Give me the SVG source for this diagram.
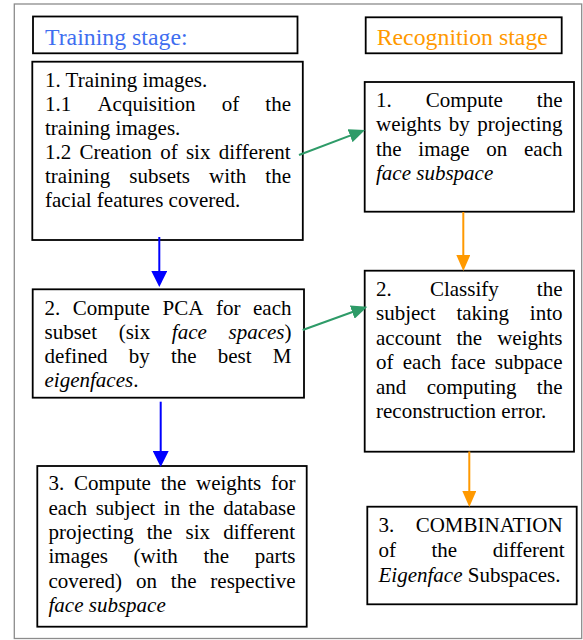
<svg xmlns="http://www.w3.org/2000/svg" width="583" height="640" viewBox="0 0 583 640">
  <style>
    .frame { fill: #ffffff; stroke: #8c8c8c; stroke-width: 1.3; }
    .box { fill: #ffffff; stroke: #000000; stroke-width: 1.8; }
    .t { font-family: "Liberation Serif", "Times New Roman", serif; font-size: 21px; fill: #000000; }
    .i { font-style: italic; }
    .head { font-family: "Liberation Serif", "Times New Roman", serif; font-size: 23.8px; }
    .blue-line { stroke: #0000ff; stroke-width: 2; fill: none; }
    .green-line { stroke: #2e9b68; stroke-width: 2; fill: none; }
    .orange-line { stroke: #ff9900; stroke-width: 2; fill: none; }
  </style>
  <defs>
    <marker id="arrow-blue" markerUnits="userSpaceOnUse" markerWidth="16" markerHeight="16" refX="12" refY="8" orient="auto">
      <path d="M0,0 L16,8 L0,16 Z" fill="#0000ff"/>
    </marker>
    <marker id="arrow-green" markerUnits="userSpaceOnUse" markerWidth="16" markerHeight="14" refX="12" refY="7" orient="auto">
      <path d="M0,0 L16,7 L0,14 Z" fill="#2e9b68"/>
    </marker>
    <marker id="arrow-orange" markerUnits="userSpaceOnUse" markerWidth="16" markerHeight="14" refX="12" refY="7" orient="auto">
      <path d="M0,0 L16,7 L0,14 Z" fill="#ff9900"/>
    </marker>
  </defs>

  <!-- outer frame -->
  <rect class="frame" x="14.3" y="4" width="567.4" height="634.5"/>

  <!-- stage headers -->
  <g id="training-header">
    <rect class="box" x="33" y="16.5" width="264.5" height="36.8"/>
    <text class="head" x="45" y="44.5" fill="#3f6ef0">Training stage:</text>
  </g>
  <g id="recognition-header">
    <rect class="box" x="365.7" y="17.3" width="196" height="36"/>
    <text class="head" x="376.7" y="44.5" fill="#ff9900">Recognition stage</text>
  </g>

  <!-- training step 1 -->
  <g id="train-1">
    <rect class="box" x="32.3" y="61.7" width="270.5" height="178.3"/>
    <text class="t" x="45" y="87">1. Training images.</text>
    <text class="t" y="111"><tspan x="45">1.1 </tspan><tspan x="97.45">Acquisition </tspan><tspan x="221.65">of </tspan><tspan x="265.34">the</tspan></text>
    <text class="t" x="45" y="135">training images.</text>
    <text class="t" y="159"><tspan x="45">1.2 </tspan><tspan x="79.53">Creation </tspan><tspan x="160.13">of </tspan><tspan x="185.9">six </tspan><tspan x="218.69">different</tspan></text>
    <text class="t" y="183"><tspan x="45">training </tspan><tspan x="129.33">subsets </tspan><tspan x="209">with </tspan><tspan x="265.34">the</tspan></text>
    <text class="t" x="45" y="207">facial features covered.</text>
  </g>

  <!-- training step 2 -->
  <g id="train-2">
    <rect class="box" x="32.7" y="289.3" width="271.3" height="108.4"/>
    <text class="t" y="314.5"><tspan x="44.5">2. </tspan><tspan x="72.86">Compute </tspan><tspan x="162.47">PCA </tspan><tspan x="215.93">for </tspan><tspan x="253.03">each</tspan></text>
    <text class="t" y="338.5"><tspan x="44.5">subset </tspan><tspan x="118.68">(six </tspan><tspan x="171.86" class="i">face </tspan><tspan x="228.52"><tspan class="i">spaces</tspan>)</tspan></text>
    <text class="t" y="362.5"><tspan x="44.5">defined </tspan><tspan x="128.69">by </tspan><tspan x="170.9">the </tspan><tspan x="217.77">best </tspan><tspan x="272.83">M</tspan></text>
    <text class="t" x="44.5" y="386.5"><tspan class="i">eigenfaces</tspan>.</text>
  </g>

  <!-- training step 3 -->
  <g id="train-3">
    <rect class="box" x="37.3" y="466" width="269.4" height="160.7"/>
    <text class="t" y="490"><tspan x="48.5">3. </tspan><tspan x="73.94">Compute </tspan><tspan x="160.63">the </tspan><tspan x="195.98">weights </tspan><tspan x="271.01">for</tspan></text>
    <text class="t" y="514.5"><tspan x="48.5">each </tspan><tspan x="95.66">subject </tspan><tspan x="163.84">in </tspan><tspan x="188.87">the </tspan><tspan x="223.2">database</tspan></text>
    <text class="t" y="538.5"><tspan x="48.5">projecting </tspan><tspan x="146.78">the </tspan><tspan x="185.56">six </tspan><tspan x="223.2">different</tspan></text>
    <text class="t" y="563"><tspan x="48.5">images </tspan><tspan x="133.56">(with </tspan><tspan x="203.46">the </tspan><tspan x="254.68">parts</tspan></text>
    <text class="t" y="587.5"><tspan x="48.5">covered) </tspan><tspan x="135.88">on </tspan><tspan x="170.8">the </tspan><tspan x="210.37">respective</tspan></text>
    <text class="t i" x="48.5" y="612">face subspace</text>
  </g>

  <!-- recognition step 1 -->
  <g id="recog-1">
    <rect class="box" x="364.7" y="82" width="209.3" height="129.7"/>
    <text class="t" y="107"><tspan x="376">1. </tspan><tspan x="425.8">Compute </tspan><tspan x="536.84">the</tspan></text>
    <text class="t" y="131"><tspan x="376">weights </tspan><tspan x="448.83">by </tspan><tspan x="477.34">projecting</tspan></text>
    <text class="t" y="155.5"><tspan x="376">the </tspan><tspan x="418.34">image </tspan><tspan x="486.34">on </tspan><tspan x="524.03">each</tspan></text>
    <text class="t i" x="376" y="180">face subspace</text>
  </g>

  <!-- recognition step 2 -->
  <g id="recog-2">
    <rect class="box" x="364.7" y="270.7" width="209.3" height="181"/>
    <text class="t" y="295.5"><tspan x="376">2. </tspan><tspan x="429.88">Classify </tspan><tspan x="536.84">the</tspan></text>
    <text class="t" y="320"><tspan x="376">subject </tspan><tspan x="456.41">taking </tspan><tspan x="529.82">into</tspan></text>
    <text class="t" y="344.5"><tspan x="376">account </tspan><tspan x="456.41">the </tspan><tspan x="497.17">weights</tspan></text>
    <text class="t" y="369"><tspan x="376">of </tspan><tspan x="402.8">each </tspan><tspan x="450.58">face </tspan><tspan x="494.86">subpace</tspan></text>
    <text class="t" y="393.5"><tspan x="376">and </tspan><tspan x="426.66">computing </tspan><tspan x="536.84">the</tspan></text>
    <text class="t" x="376" y="418">reconstruction error.</text>
  </g>

  <!-- recognition step 3 -->
  <g id="recog-3">
    <rect class="box" x="367.3" y="506.7" width="209.4" height="97.6"/>
    <text class="t" y="531.5"><tspan x="378.5">3. </tspan><tspan x="415.69">COMBINATION</tspan></text>
    <text class="t" y="556.5"><tspan x="378.5">of </tspan><tspan x="431.52">the </tspan><tspan x="492.7">different</tspan></text>
    <text class="t" x="378.5" y="581.5"><tspan class="i">Eigenface</tspan> Subspaces.</text>
  </g>

  <!-- connectors -->
  <g id="connectors">
    <path class="blue-line" d="M159.3,237 L159.3,283" marker-end="url(#arrow-blue)"/>
    <path class="blue-line" d="M160.7,401.7 L160.7,463" marker-end="url(#arrow-blue)"/>
    <path class="green-line" d="M299,155 L361.26,131.42" marker-end="url(#arrow-green)"/>
    <path class="green-line" d="M302.7,330 L363.54,308.06" marker-end="url(#arrow-green)"/>
    <path class="orange-line" d="M463.3,212 L463.3,267" marker-end="url(#arrow-orange)"/>
    <path class="orange-line" d="M469.3,451.5 L469.3,503" marker-end="url(#arrow-orange)"/>
  </g>
</svg>
